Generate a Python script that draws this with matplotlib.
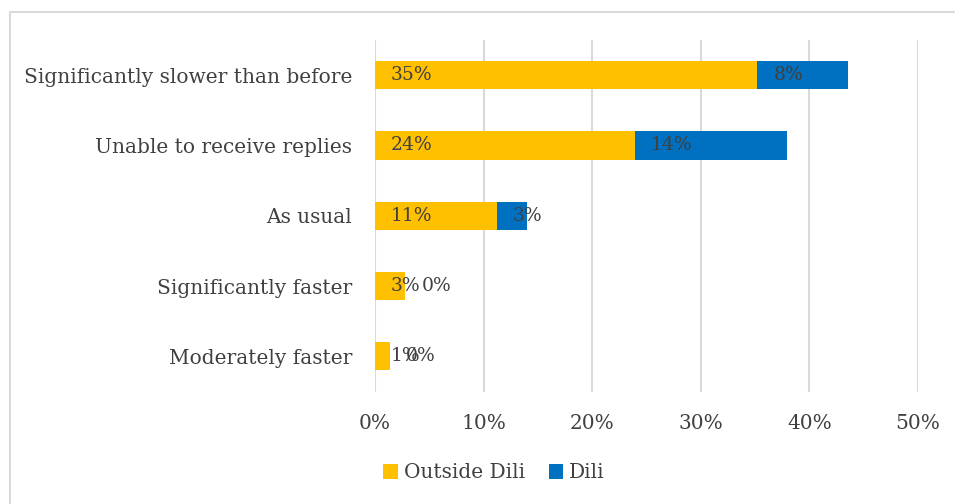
import numpy as np
import matplotlib.pyplot as plt
from matplotlib.patches import Rectangle
from matplotlib.ticker import FuncFormatter

#%% data
categories = ['Significantly slower than before', 'Unable to receive replies',
              'As usual', 'Significantly faster', 'Moderately faster']
outside_dili = [35.2, 23.9, 11.2, 2.8, 1.4]
dili = [8.4, 14.0, 2.8, 0.0, 0.0]
series_names = ['Outside Dili', 'Dili']

#%% style
plt.rcParams['font.family'] = ['DejaVu Serif']
txt = '#404040'
yellow = '#FFC000'
blue = '#0070C0'
grid_c = '#D9D9D9'
fs = 14.5

fig = plt.figure(figsize=(9.55, 5.04), dpi=100)
ax = fig.add_axes([375/955, 1 - 391.5/504, 543/955, 351.5/504])

y = np.arange(len(categories))
b1 = ax.barh(y, outside_dili, height=0.4, color=yellow, label=series_names[0], zorder=3)
b2 = ax.barh(y, dili, left=outside_dili, height=0.4, color=blue, label=series_names[1], zorder=3)

# data labels, left aligned near each segment start
for i in range(len(categories)):
    for start, val in [(0, outside_dili[i]), (outside_dili[i], dili[i])]:
        ax.annotate('%d%%' % round(val), xy=(start, y[i]), xytext=(16, 0),
                    textcoords='offset pixels', ha='left', va='center',
                    fontsize=13.5, color=txt, zorder=4)

ax.set_xlim(0, 50)
ax.set_ylim(len(categories) - 0.5, -0.5)
ax.set_xticks(np.arange(0, 51, 10))
ax.xaxis.set_major_formatter(FuncFormatter(lambda v, p: '%d%%' % v))
ax.set_yticks(y)
ax.set_yticklabels(categories)
ax.tick_params(axis='x', length=0, pad=16.5, labelsize=fs, labelcolor=txt)
ax.tick_params(axis='y', length=0, pad=16.5, labelsize=fs, labelcolor=txt)
ax.grid(axis='x', color=grid_c, linewidth=1.5, zorder=0)
for s in ax.spines.values():
    s.set_visible(False)

fig.legend(handles=[b1, b2], loc='center', bbox_to_anchor=(494/955, 1 - 473/504),
           ncol=2, frameon=False, fontsize=fs, labelcolor=txt,
           handlelength=0.7, handleheight=0.7, handletextpad=0.3, columnspacing=1.2)

# chart area border
fig.patches.append(Rectangle((10/955, -0.1), 1.2, 1.1 - 12/504, transform=fig.transFigure,
                             fill=False, edgecolor=grid_c, linewidth=1.5))

plt.savefig('out.png')
